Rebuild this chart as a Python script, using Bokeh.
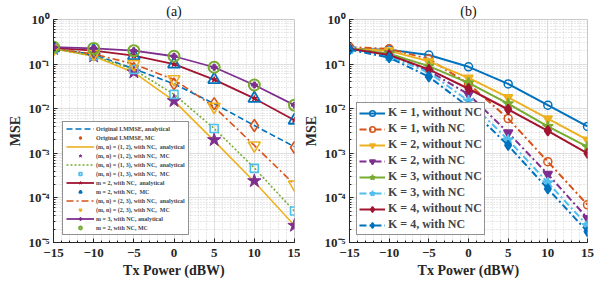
from bokeh.plotting import figure
from bokeh.models import (Legend, LegendItem, SingleIntervalTicker, LogTicker,
                          CustomJSTickFormatter, Range1d, Div)
from bokeh.layouts import row, column
from bokeh.embed import file_html
from bokeh.resources import INLINE

# ---------------- data ----------------
tx_power = [-15, -10, -5, 0, 5, 10, 15]

# panel (a)
orig_ana = [0.22, 0.165, 0.078, 0.036, 0.013, 0.0042, 0.0014]
orig_mc = [0.22, 0.165, 0.080, 0.036, 0.013, 0.0042, 0.00135]
p12_ana = [0.22, 0.15, 0.065, 0.015, 0.0019, 0.00023, 2.4e-5]
p12_mc = [0.22, 0.15, 0.066, 0.015, 0.0020, 0.00024, 2.4e-5]
p13_ana = [0.22, 0.155, 0.075, 0.021, 0.0036, 0.00047, 5.0e-5]
p13_mc = [0.22, 0.155, 0.076, 0.021, 0.0036, 0.00046, 5.1e-5]
m2_ana = [0.23, 0.20, 0.155, 0.10, 0.045, 0.017, 0.0055]
m2_mc = [0.23, 0.20, 0.155, 0.10, 0.045, 0.017, 0.0055]
p23_ana = [0.22, 0.17, 0.10, 0.045, 0.011, 0.0015, 0.0002]
p23_mc = [0.22, 0.17, 0.10, 0.046, 0.011, 0.0015, 0.0002]
m3_ana = [0.24, 0.225, 0.20, 0.15, 0.085, 0.034, 0.012]
m3_mc = [0.24, 0.225, 0.20, 0.15, 0.085, 0.034, 0.012]

labels_a = [
    "Original LMMSE, analytical",
    "Original LMMSE, MC",
    "(m, n) = (1, 2), with NC,  analytical",
    "(m, n) = (1, 2), with NC,  MC",
    "(m, n) = (1, 3), with NC,  analytical",
    "(m, n) = (1, 3), with NC,  MC",
    "m = 2, with NC,  analytical",
    "m = 2, with NC,  MC",
    "(m, n) = (2, 3), with NC,  analytical",
    "(m, n) = (2, 3), with NC,  MC",
    "m = 3, with NC, analytical",
    "m = 2, with NC, MC",
]

# panel (b)
k1_wo = [0.22, 0.21, 0.16, 0.087, 0.036, 0.012, 0.004]
k1_w = [0.24, 0.22, 0.13, 0.036, 0.006, 0.00065, 7e-5]
k2_wo = [0.22, 0.20, 0.115, 0.049, 0.018, 0.006, 0.002]
k2_w = [0.22, 0.17, 0.07, 0.021, 0.0029, 0.00034, 3.5e-5]
k3_wo = [0.22, 0.17, 0.09, 0.038, 0.013, 0.004, 0.0014]
k3_w = [0.22, 0.15, 0.065, 0.015, 0.002, 0.00022, 2.4e-5]
k4_wo = [0.22, 0.16, 0.076, 0.028, 0.0096, 0.0032, 0.001]
k4_w = [0.21, 0.14, 0.052, 0.011, 0.0015, 0.00016, 1.75e-5]

labels_b = [
    "K = 1, without NC", "K = 1, with NC",
    "K = 2, without NC", "K = 2, with NC",
    "K = 3, without NC", "K = 3, with NC",
    "K = 4, without NC", "K = 4, with NC",
]

caption = "1: (a) Analytical and Monte Carlo (MC) MSE results for different"

# ---------------- styling ----------------
BLUE, ORANGE, YELLOW, PURPLE = "#0072BD", "#D95319", "#EDB120", "#7E2F8E"
GREEN, CYAN, RED = "#77AC30", "#4DBEEE", "#A2142F"
SERIF = "Liberation Serif"
AX = "#262626"

DASH = "6 3"
DOT = "2 2"
DASHDOT = "7 3 2 3"

fmt = CustomJSTickFormatter(code="""
const e = Math.round(Math.log10(tick));
const m = {"-":"\\u207B","0":"\\u2070","1":"\\u00B9","2":"\\u00B2","3":"\\u00B3",
           "4":"\\u2074","5":"\\u2075","6":"\\u2076","7":"\\u2077","8":"\\u2078","9":"\\u2079"};
return "10" + String(e).split("").map(c => m[c]).join("");
""")


def make_fig(title, width, bl, br):
    p = figure(width=width, height=297, x_range=Range1d(-15, 15),
               y_range=Range1d(1e-5, 1), y_axis_type="log",
               output_backend="svg", toolbar_location=None, title=title,
               min_border_left=bl, min_border_right=br,
               min_border_top=19, min_border_bottom=55)
    p.title.align = "center"
    p.title.text_font = SERIF
    p.title.text_font_style = "normal"
    p.title.text_font_size = "14px"
    p.title.text_color = "#111111"
    p.title.standoff = 2
    p.xaxis.ticker = SingleIntervalTicker(interval=5, num_minor_ticks=5)
    p.yaxis.ticker = LogTicker(num_minor_ticks=10)
    p.yaxis.formatter = fmt
    for ax in (p.xaxis[0], p.yaxis[0]):
        ax.major_label_text_font = SERIF
        ax.major_label_text_font_style = "bold"
        ax.major_label_text_font_size = "13px"
        ax.major_label_text_color = AX
        ax.axis_label_text_font = SERIF
        ax.axis_label_text_font_style = "bold"
        ax.axis_label_text_font_size = "14px"
        ax.axis_label_text_color = AX
        ax.axis_line_color = AX
        ax.major_tick_line_color = AX
        ax.minor_tick_line_color = AX
        ax.major_tick_in = 4
        ax.major_tick_out = 0
        ax.minor_tick_in = 2
        ax.minor_tick_out = 0
        ax.axis_label_standoff = 3
    p.xaxis.major_label_standoff = 6
    p.yaxis.major_label_standoff = 4
    p.xaxis.axis_label = "Tx Power (dBW)"
    p.yaxis.axis_label = "MSE"
    for g in (p.xgrid[0], p.ygrid[0]):
        g.grid_line_color = "#dedede"
        g.grid_line_width = 1
        g.minor_grid_line_color = "#d0d0d0"
        g.minor_grid_line_dash = "1 2"
        g.minor_grid_line_width = 1
    p.outline_line_color = "#c8c8c8"
    p.background_fill_color = "white"
    p.border_fill_color = "white"
    return p


# ---------------- panel (a) ----------------
p1 = make_fig("(a)", 300, 53, 6)
items_a = []

r = p1.line(tx_power, orig_ana, color=BLUE, line_width=1.6, line_dash=DASH)
items_a.append(LegendItem(label=labels_a[0], renderers=[r]))
r = p1.scatter(tx_power, orig_mc, marker="diamond", size=12, line_color=ORANGE,
               fill_alpha=0, line_width=1.6)
items_a.append(LegendItem(label=labels_a[1], renderers=[r]))

r = p1.line(tx_power, p12_ana, color=YELLOW, line_width=1.6)
items_a.append(LegendItem(label=labels_a[2], renderers=[r]))
r = p1.scatter(tx_power, p12_mc, marker="star", size=14, color=PURPLE)
items_a.append(LegendItem(label=labels_a[3], renderers=[r]))

r = p1.line(tx_power, p13_ana, color=GREEN, line_width=1.6, line_dash=DOT)
items_a.append(LegendItem(label=labels_a[4], renderers=[r]))
r = p1.scatter(tx_power, p13_mc, marker="square", size=8, line_color=CYAN,
               fill_alpha=0, line_width=1.6)
items_a.append(LegendItem(label=labels_a[5], renderers=[r]))

r1 = p1.line(tx_power, m2_ana, color=RED, line_width=1.8)
r2 = p1.scatter(tx_power, m2_ana, marker="star", size=6, color=RED)
items_a.append(LegendItem(label=labels_a[6], renderers=[r1, r2]))
r = p1.scatter(tx_power, m2_mc, marker="triangle", size=12, line_color=BLUE,
               fill_alpha=0, line_width=1.8)
items_a.append(LegendItem(label=labels_a[7], renderers=[r]))

r = p1.line(tx_power, p23_ana, color=ORANGE, line_width=1.6, line_dash=DASHDOT)
items_a.append(LegendItem(label=labels_a[8], renderers=[r]))
r = p1.scatter(tx_power, p23_mc, marker="inverted_triangle", size=12,
               line_color=YELLOW, fill_alpha=0, line_width=1.6)
items_a.append(LegendItem(label=labels_a[9], renderers=[r]))

r1 = p1.line(tx_power, m3_ana, color=PURPLE, line_width=1.8)
r2 = p1.scatter(tx_power, m3_ana, marker="plus", size=6, color=PURPLE)
items_a.append(LegendItem(label=labels_a[10], renderers=[r1, r2]))
r = p1.scatter(tx_power, m3_mc, marker="circle", size=11, line_color=GREEN,
               fill_alpha=0, line_width=2)
items_a.append(LegendItem(label=labels_a[11], renderers=[r]))

leg_a = Legend(items=items_a, location=(9, 7), margin=0, padding=3, spacing=2,
               label_text_font=SERIF, label_text_font_style="bold",
               label_text_font_size="6px", label_height=7, glyph_height=7,
               glyph_width=28, label_standoff=2,
               border_line_color=AX, border_line_width=1,
               background_fill_alpha=1)
p1.add_layout(leg_a, "center")

# ---------------- panel (b) ----------------
p2 = make_fig("(b)", 308, 48, 21)
series_b = [
    (k1_wo, BLUE, None, "circle", 8, False),
    (k1_w, ORANGE, DASHDOT, "circle", 8, False),
    (k2_wo, YELLOW, None, "inverted_triangle", 9, True),
    (k2_w, PURPLE, DASHDOT, "inverted_triangle", 9, True),
    (k3_wo, GREEN, None, "star", 11, True),
    (k3_w, CYAN, DASHDOT, "star", 11, True),
    (k4_wo, RED, None, "diamond", 10, True),
    (k4_w, BLUE, DASHDOT, "diamond", 10, True),
]
items_b = []
for (vals, col, dash, mk, sz, filled), lab in zip(series_b, labels_b):
    kw = {} if dash is None else {"line_dash": dash}
    rl = p2.line(tx_power, vals, color=col, line_width=2, **kw)
    rs = p2.scatter(tx_power, vals, marker=mk, size=sz, line_color=col,
                    fill_color=col, fill_alpha=1 if filled else 0, line_width=1.5)
    items_b.append(LegendItem(label=lab, renderers=[rl, rs]))

leg_b = Legend(items=items_b, location=(7, 7), margin=0, padding=2, spacing=1,
               label_text_font=SERIF, label_text_font_style="bold",
               label_text_font_size="12px", label_height=14, glyph_height=14,
               glyph_width=26, label_standoff=3,
               border_line_color=AX, border_line_width=1,
               background_fill_alpha=1)
p2.add_layout(leg_b, "center")

cap = Div(text=caption, width=608, height=9,
          styles={"font-family": "'Liberation Serif', serif", "font-size": "22px",
                  "line-height": "22px", "white-space": "nowrap",
                  "word-spacing": "6px", "color": "#111111",
                  "overflow": "hidden", "padding-top": "1px"})

layout = column(row(p1, p2), cap)

open("out.html", "w").write(file_html(layout, INLINE))
